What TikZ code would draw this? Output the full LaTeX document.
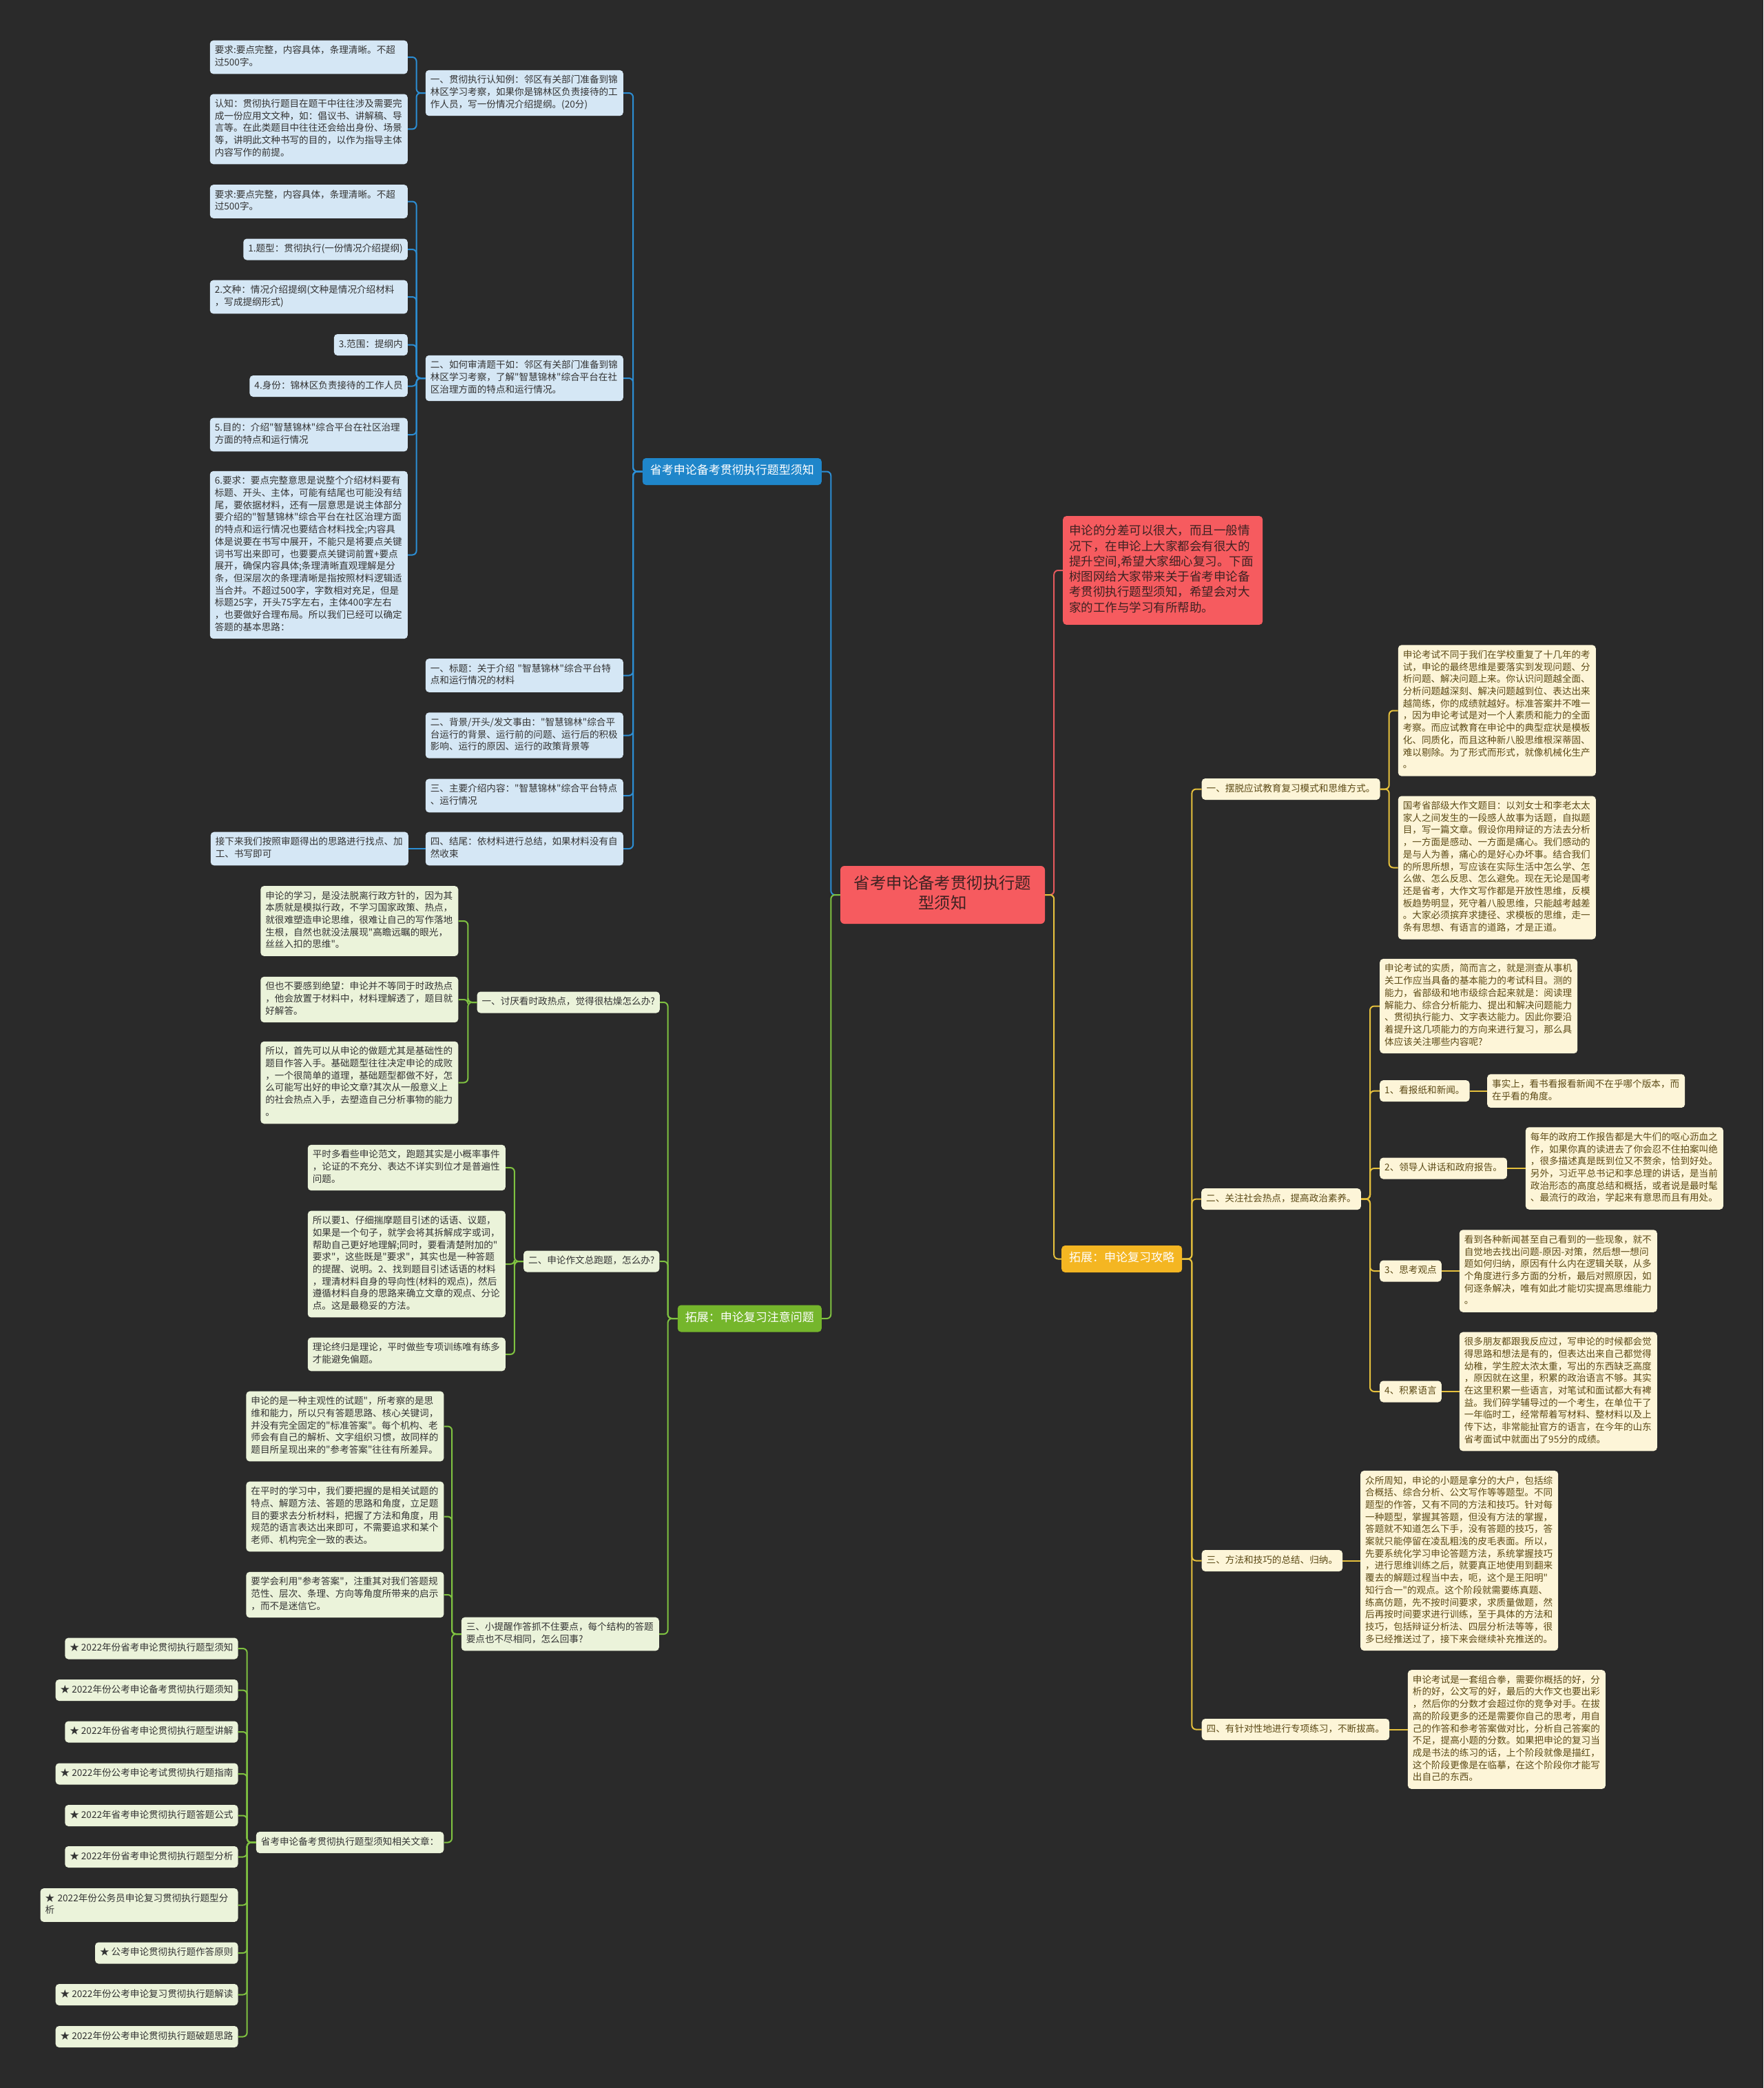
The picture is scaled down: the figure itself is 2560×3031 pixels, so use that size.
\documentclass[tikz,border=0pt]{standalone}
\usepackage{fontspec}
\newfontfamily\cjk{Noto Sans CJK SC}
\definecolor{bgc}{HTML}{2A2A2A}
\definecolor{bLeaf}{HTML}{D5E7F5}
\definecolor{bLine}{HTML}{2C8ED4}
\definecolor{bMain}{HTML}{1F86CA}
\definecolor{gLeaf}{HTML}{EBF3DA}
\definecolor{gLine}{HTML}{7FC241}
\definecolor{gMain}{HTML}{75B62C}
\definecolor{yLeaf}{HTML}{FDF5D8}
\definecolor{yText}{HTML}{5C4A16}
\definecolor{yLine}{HTML}{E6C13D}
\definecolor{yMain}{HTML}{F4B622}
\definecolor{rMain}{HTML}{F65B5F}
\definecolor{rText}{HTML}{3E2222}
\definecolor{rLine}{HTML}{E4595C}
\definecolor{dText}{HTML}{333333}
\newcommand\fsleaf{\cjk\fontsize{13.6pt}{17.7pt}\selectfont}
\newcommand\fsbr{\cjk\fontsize{17pt}{21pt}\selectfont}
\newcommand\fsred{\cjk\fontsize{17.5pt}{22.3pt}\selectfont}
\newcommand\fscen{\cjk\fontsize{23.4pt}{28.6pt}\selectfont}
\begin{document}
\begin{tikzpicture}[x=1pt,y=-1pt,
  box/.style={rounded corners=5pt, inner xsep=7pt, inner ysep=6.65pt, font=\fsleaf,
    execute at begin node=\strut, execute at end node=\strut},
  wide/.style={text width=273pt, align=left},
  bl/.style={box, fill=bLeaf, text=dText},
  gl/.style={box, fill=gLeaf, text=dText},
  yl/.style={box, fill=yLeaf, text=yText},
  brn/.style={rounded corners=5pt, inner xsep=11pt, inner ysep=9pt, font=\fsbr, text=white,
    execute at begin node=\strut},
  conn/.style={line width=2pt, rounded corners=6pt},
  lft/.style={anchor=east}, rgt/.style={anchor=west}
]
\fill[bgc] (0,0) rectangle (2560,3031);
\useasboundingbox (0,0) rectangle (2560,3031);

% ---------- centre ----------
\node[fill=rMain, text=rText, font=\fscen, text width=260pt, align=center, inner xsep=18.5pt,
  inner ysep=13.4pt, rounded corners=6pt, execute at begin node=\strut, execute at end node=\strut]
  (cen) at (1368.5,1299) {省考申论备考贯彻执行题\\型须知};
\node[fill=rMain, text=rText, font=\fsred, text width=272pt, align=left, inner xsep=9pt,
  inner ysep=12pt, rounded corners=5pt, anchor=west, execute at begin node=\strut, execute at end node=\strut]
  (intro) at (1543,828) {申论的分差可以很大，而且一般情\\况下，在申论上大家都会有很大的\\提升空间,希望大家细心复习。下面\\树图网给大家带来关于省考申论备\\考贯彻执行题型须知，希望会对大\\家的工作与学习有所帮助。};

% ---------- blue branch ----------
\node[brn, fill=bMain, anchor=east] (bmain) at (1193,684.5) {省考申论备考贯彻执行题型须知};
\node[bl,wide,lft] (a) at (905,135) {一、贯彻执行认知例：邻区有关部门准备到锦\\林区学习考察，如果你是锦林区负责接待的工\\作人员，写一份情况介绍提纲。(20分)};
\node[bl,wide,lft] (a1) at (592,83) {要求:要点完整，内容具体，条理清晰。不超\\过500字。};
\node[bl,wide,lft] (a2) at (592,187.4) {认知：贯彻执行题目在题干中往往涉及需要完\\成一份应用文文种，如：倡议书、讲解稿、导\\言等。在此类题目中往往还会给出身份、场景\\等，讲明此文种书写的目的，以作为指导主体\\内容写作的前提。};
\node[bl,wide,lft] (b) at (905,549) {二、如何审清题干如：邻区有关部门准备到锦\\林区学习考察，了解"智慧锦林"综合平台在社\\区治理方面的特点和运行情况。};
\node[bl,wide,lft] (b1) at (592,292.5) {要求:要点完整，内容具体，条理清晰。不超\\过500字。};
\node[bl,lft] (b2) at (592,362) {1.题型：贯彻执行(一份情况介绍提纲)};
\node[bl,wide,lft] (b3) at (592,431) {2.文种：情况介绍提纲(文种是情况介绍材料\\，写成提纲形式)};
\node[bl,lft] (b4) at (592,500.5) {3.范围：提纲内};
\node[bl,lft] (b5) at (592,560.5) {4.身份：锦林区负责接待的工作人员};
\node[bl,wide,lft] (b6) at (592,631) {5.目的：介绍"智慧锦林"综合平台在社区治理\\方面的特点和运行情况};
\node[bl,wide,lft] (b7) at (592,805.5) {6.要求：要点完整意思是说整个介绍材料要有\\标题、开头、主体，可能有结尾也可能没有结\\尾，要依据材料，还有一层意思是说主体部分\\要介绍的"智慧锦林"综合平台在社区治理方面\\的特点和运行情况也要结合材料找全;内容具\\体是说要在书写中展开，不能只是将要点关键\\词书写出来即可，也要要点关键词前置+要点\\展开，确保内容具体;条理清晰直观理解是分\\条，但深层次的条理清晰是指按照材料逻辑适\\当合并。不超过500字，字数相对充足，但是\\标题25字，开头75字左右，主体400字左右\\，也要做好合理布局。所以我们已经可以确定\\答题的基本思路：};
\node[bl,wide,lft] (c1) at (905,980.5) {一、标题：关于介绍~"智慧锦林"综合平台特\\点和运行情况的材料};
\node[bl,wide,lft] (c2) at (905,1067.5) {二、背景/开头/发文事由："智慧锦林"综合平\\台运行的背景、运行前的问题、运行后的积极\\影响、运行的原因、运行的政策背景等};
\node[bl,wide,lft] (c3) at (905,1155) {三、主要介绍内容："智慧锦林"综合平台特点\\、运行情况};
\node[bl,wide,lft] (c4) at (905,1232) {四、结尾：依材料进行总结，如果材料没有自\\然收束};
\node[bl,wide,lft] (d) at (593,1232) {接下来我们按照审题得出的思路进行找点、加\\工、书写即可};

% ---------- green branch ----------
\node[brn, fill=gMain, anchor=east] (gmain) at (1193,1914) {拓展：申论复习注意问题};
\node[gl,lft] (g1) at (958,1455) {一、讨厌看时政热点，觉得很枯燥怎么办?};
\node[gl,wide,lft] (g1a) at (665.5,1337) {申论的学习，是没法脱离行政方针的，因为其\\本质就是模拟行政，不学习国家政策、热点，\\就很难塑造申论思维，很难让自己的写作落地\\生根，自然也就没法展现"高瞻远瞩的眼光，\\丝丝入扣的思维"。};
\node[gl,wide,lft] (g1b) at (665.5,1451) {但也不要感到绝望：申论并不等同于时政热点\\，他会放置于材料中，材料理解透了，题目就\\好解答。};
\node[gl,wide,lft] (g1c) at (665.5,1571.5) {所以，首先可以从申论的做题尤其是基础性的\\题目作答入手。基础题型往往决定申论的成败\\，一个很简单的道理，基础题型都做不好，怎\\么可能写出好的申论文章?其次从一般意义上\\的社会热点入手，去塑造自己分析事物的能力\\。};
\node[gl,lft] (g2) at (957.6,1831) {二、申论作文总跑题，怎么办?};
\node[gl,wide,lft] (g2a) at (734,1695) {平时多看些申论范文，跑题其实是小概率事件\\，论证的不充分、表达不详实到位才是普遍性\\问题。};
\node[gl,wide,lft] (g2b) at (734,1835) {所以要1、仔细揣摩题目引述的话语、议题，\\如果是一个句子，就学会将其拆解成字或词，\\帮助自己更好地理解;同时，要看清楚附加的"\\要求"，这些既是"要求"，其实也是一种答题\\的提醒、说明。2、找到题目引述话语的材料\\，理清材料自身的导向性(材料的观点)，然后\\遵循材料自身的思路来确立文章的观点、分论\\点。这是最稳妥的方法。};
\node[gl,wide,lft] (g2c) at (734,1966) {理论终归是理论，平时做些专项训练唯有练多\\才能避免偏题。};
\node[gl,wide,lft] (g3) at (957,2372) {三、小提醒作答抓不住要点，每个结构的答题\\要点也不尽相同，怎么回事?};
\node[gl,wide,lft] (g3a) at (644.6,2070.5) {申论的是一种主观性的试题"，所考察的是思\\维和能力，所以只有答题思路、核心关键词，\\并没有完全固定的"标准答案"。每个机构、老\\师会有自己的解析、文字组织习惯，故同样的\\题目所呈现出来的"参考答案"往往有所差异。};
\node[gl,wide,lft] (g3b) at (644.6,2201.5) {在平时的学习中，我们要把握的是相关试题的\\特点、解题方法、答题的思路和角度，立足题\\目的要求去分析材料，把握了方法和角度，用\\规范的语言表达出来即可，不需要追求和某个\\老师、机构完全一致的表达。};
\node[gl,wide,lft] (g3c) at (644.6,2315) {要学会利用"参考答案"，注重其对我们答题规\\范性、层次、条理、方向等角度所带来的启示\\，而不是迷信它。};
\node[gl,lft] (g4) at (644.5,2674.5) {省考申论备考贯彻执行题型须知相关文章：};
\node[gl,lft] (s1) at (345.7,2393) {★ 2022年份省考申论贯彻执行题型须知};
\node[gl,lft] (s2) at (345.7,2453.5) {★ 2022年份公考申论备考贯彻执行题须知};
\node[gl,lft] (s3) at (345.7,2514) {★ 2022年份省考申论贯彻执行题型讲解};
\node[gl,lft] (s4) at (345.7,2575) {★ 2022年份公考申论考试贯彻执行题指南};
\node[gl,lft] (s5) at (345.7,2635.5) {★ 2022年省考申论贯彻执行题答题公式};
\node[gl,lft] (s6) at (345.7,2695.5) {★ 2022年份省考申论贯彻执行题型分析};
\node[gl,wide,lft] (s7) at (345.7,2765.5) {★~2022年份公务员申论复习贯彻执行题型分\\析};
\node[gl,lft] (s8) at (345.7,2835) {★ 公考申论贯彻执行题作答原则};
\node[gl,lft] (s9) at (345.7,2895.5) {★ 2022年份公考申论复习贯彻执行题解读};
\node[gl,lft] (s10) at (345.7,2956.5) {★ 2022年份公考申论贯彻执行题破题思路};

% ---------- orange branch ----------
\node[brn, fill=yMain, anchor=west] (omain) at (1541,1827.5) {拓展：申论复习攻略};
\node[yl,rgt] (o1) at (1744.5,1145.5) {一、摆脱应试教育复习模式和思维方式。};
\node[yl,wide,rgt] (o1a) at (2029.6,1031.5) {申论考试不同于我们在学校重复了十几年的考\\试，申论的最终思维是要落实到发现问题、分\\析问题、解决问题上来。你认识问题越全面、\\分析问题越深刻、解决问题越到位、表达出来\\越简练，你的成绩就越好。标准答案并不唯一\\，因为申论考试是对一个人素质和能力的全面\\考察。而应试教育在申论中的典型症状是模板\\化、同质化，而且这种新八股思维根深蒂固、\\难以剔除。为了形式而形式，就像机械化生产\\。};
\node[yl,wide,rgt] (o1b) at (2029.6,1259.5) {国考省部级大作文题目：以刘女士和李老太太\\家人之间发生的一段感人故事为话题，自拟题\\目，写一篇文章。假设你用辩证的方法去分析\\，一方面是感动、一方面是痛心。我们感动的\\是与人为善，痛心的是好心办坏事。结合我们\\的所思所想，写应该在实际生活中怎么学、怎\\么做、怎么反思、怎么避免。现在无论是国考\\还是省考，大作文写作都是开放性思维，反模\\板趋势明显，死守着八股思维，只能越考越差\\。大家必须摈弃求捷径、求模板的思维，走一\\条有思想、有语言的道路，才是正道。};
\node[yl,rgt] (o2) at (1744,1740.6) {二、关注社会热点，提高政治素养。};
\node[yl,wide,rgt] (o2a) at (2003,1460.5) {申论考试的实质，简而言之，就是测查从事机\\关工作应当具备的基本能力的考试科目。测的\\能力，省部级和地市级综合起来就是：阅读理\\解能力、综合分析能力、提出和解决问题能力\\、贯彻执行能力、文字表达能力。因此你要沿\\着提升这几项能力的方向来进行复习，那么具\\体应该关注哪些内容呢?};
\node[yl,rgt] (o2b) at (2003,1583.6) {1、看报纸和新闻。};
\node[yl,wide,rgt] (o2b1) at (2159,1583.6) {事实上，看书看报看新闻不在乎哪个版本，而\\在乎看的角度。};
\node[yl,rgt] (o2c) at (2003,1696) {2、领导人讲话和政府报告。};
\node[yl,wide,rgt] (o2c1) at (2214.7,1696) {每年的政府工作报告都是大牛们的呕心沥血之\\作，如果你真的读进去了你会忍不住拍案叫绝\\，很多描述真是既到位又不赘余，恰到好处。\\另外，习近平总书记和李总理的讲话，是当前\\政治形态的高度总结和概括，或者说是最时髦\\、最流行的政治，学起来有意思而且有用处。};
\node[yl,rgt] (o2d) at (2003,1845) {3、思考观点};
\node[yl,wide,rgt] (o2d1) at (2118.6,1845) {看到各种新闻甚至自己看到的一些现象，就不\\自觉地去找出问题-原因-对策，然后想一想问\\题如何归纳，原因有什么内在逻辑关联，从多\\个角度进行多方面的分析，最后对照原因，如\\何逐条解决，唯有如此才能切实提高思维能力\\。};
\node[yl,rgt] (o2e) at (2003,2020) {4、积累语言};
\node[yl,wide,rgt] (o2e1) at (2118.6,2020) {很多朋友都跟我反应过，写申论的时候都会觉\\得思路和想法是有的，但表达出来自己都觉得\\幼稚，学生腔太浓太重，写出的东西缺乏高度\\，原因就在这里，积累的政治语言不够。其实\\在这里积累一些语言，对笔试和面试都大有裨\\益。我们碎学辅导过的一个考生，在单位干了\\一年临时工，经常帮着写材料、整材料以及上\\传下达，非常能扯官方的语言，在今年的山东\\省考面试中就面出了95分的成绩。};
\node[yl,rgt] (o3) at (1744.5,2265.5) {三、方法和技巧的总结、归纳。};
\node[yl,wide,rgt] (o3a) at (1975,2265.5) {众所周知，申论的小题是拿分的大户，包括综\\合概括、综合分析、公文写作等等题型。不同\\题型的作答，又有不同的方法和技巧。针对每\\一种题型，掌握其答题，但没有方法的掌握，\\答题就不知道怎么下手，没有答题的技巧，答\\案就只能停留在凌乱粗浅的皮毛表面。所以，\\先要系统化学习申论答题方法，系统掌握技巧\\，进行思维训练之后，就要真正地使用到翻来\\覆去的解题过程当中去，呃，这个是王阳明"\\知行合一"的观点。这个阶段就需要练真题、\\练高仿题，先不按时间要求，求质量做题，然\\后再按时间要求进行训练，至于具体的方法和\\技巧，包括辩证分析法、四层分析法等等，很\\多已经推送过了，接下来会继续补充推送的。};
\node[yl,rgt] (o4) at (1744.5,2510.5) {四、有针对性地进行专项练习，不断拔高。};
\node[yl,wide,rgt] (o4a) at (2043.7,2510.5) {申论考试是一套组合拳，需要你概括的好，分\\析的好，公文写的好，最后的大作文也要出彩\\，然后你的分数才会超过你的竞争对手。在拔\\高的阶段更多的还是需要你自己的思考，用自\\己的作答和参考答案做对比，分析自己答案的\\不足，提高小题的分数。如果把申论的复习当\\成是书法的练习的话，上个阶段就像是描红，\\这个阶段更像是在临摹，在这个阶段你才能写\\出自己的东西。};

% ---------- connectors ----------
\draw[conn,rLine] (cen.east) -- ++(13,0) |- (intro.west);
\draw[conn,yLine] (cen.east) -- ++(13,0) |- (omain.west);
\draw[conn,bLine] (cen.west) -- ++(-13.5,0) |- (bmain.east);
\draw[conn,gLine] (cen.west) -- ++(-13.5,0) |- (gmain.east);

\foreach \c in {a,b,c1,c2,c3,c4} \draw[conn,bLine] (bmain.west) -- ++(-13.5,0) |- (\c.east);
\foreach \c in {a1,a2} \draw[conn,bLine] (a.west) -- ++(-13,0) |- (\c.east);
\foreach \c in {b1,b2,b3,b4,b5,b6,b7} \draw[conn,bLine] (b.west) -- ++(-13,0) |- (\c.east);
\draw[conn,bLine] (c4.west) -- (d.east);

\foreach \c in {g1,g2,g3} \draw[conn,gLine] (gmain.west) -- ++(-14,0) |- (\c.east);
\foreach \c in {g1a,g1b,g1c} \draw[conn,gLine] (g1.west) -- ++(-13,0) |- (\c.east);
\foreach \c in {g2a,g2b,g2c} \draw[conn,gLine] (g2.west) -- ++(-13,0) |- (\c.east);
\foreach \c in {g3a,g3b,g3c,g4} \draw[conn,gLine] (g3.west) -- ++(-13.5,0) |- (\c.east);
\foreach \c in {s1,s2,s3,s4,s5,s6,s7,s8,s9,s10} \draw[conn,gLine] (g4.west) -- ++(-13,0) |- (\c.east);

\foreach \c in {o1,o2,o3,o4} \draw[conn,yLine] (omain.east) -- ++(14,0) |- (\c.west);
\foreach \c in {o1a,o1b} \draw[conn,yLine] (o1.east) -- ++(13,0) |- (\c.west);
\foreach \c in {o2a,o2b,o2c,o2d,o2e} \draw[conn,yLine] (o2.east) -- ++(13,0) |- (\c.west);
\draw[conn,yLine] (o2b.east) -- (o2b1.west);
\draw[conn,yLine] (o2c.east) -- (o2c1.west);
\draw[conn,yLine] (o2d.east) -- (o2d1.west);
\draw[conn,yLine] (o2e.east) -- (o2e1.west);
\draw[conn,yLine] (o3.east) -- (o3a.west);
\draw[conn,yLine] (o4.east) -- (o4a.west);
\end{tikzpicture}
\end{document}
